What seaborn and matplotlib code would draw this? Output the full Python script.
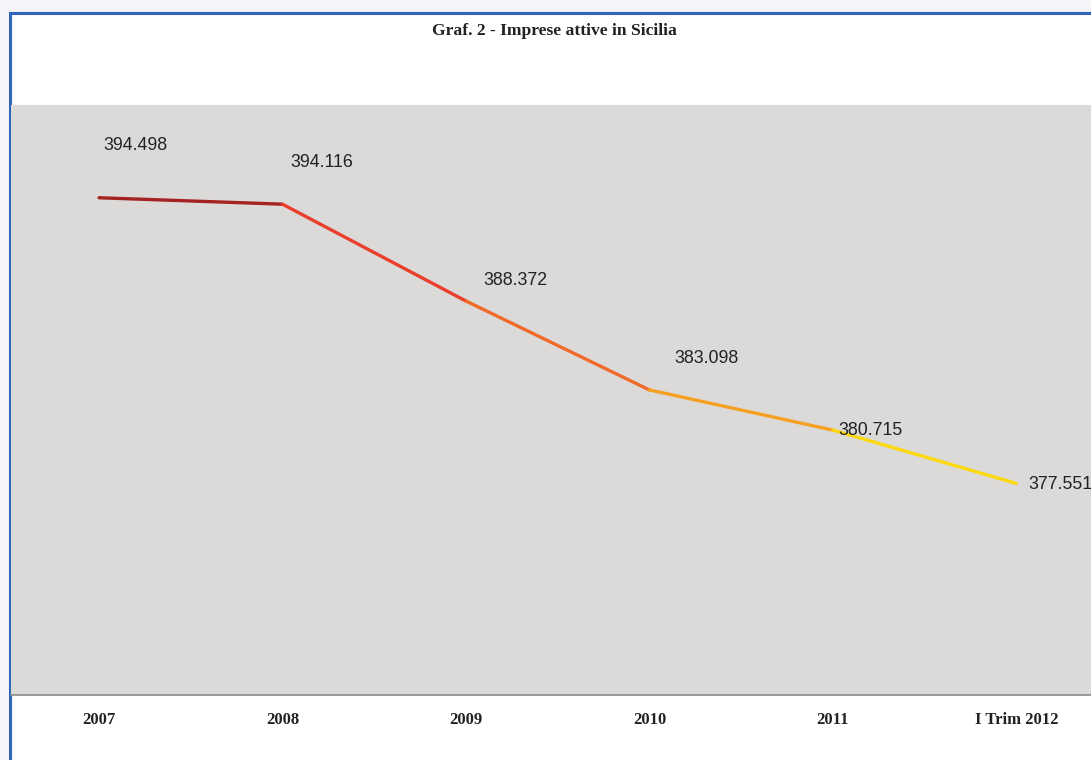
import matplotlib
matplotlib.use("Agg")
import matplotlib.pyplot as plt
import seaborn as sns
import pandas as pd
from matplotlib.patches import Rectangle

categories = ["2007", "2008", "2009", "2010", "2011", "I Trim 2012"]
values = [394498, 394116, 388372, 383098, 380715, 377551]
value_labels = ["394.498", "394.116", "388.372", "383.098", "380.715", "377.551"]

# label offsets in pixels (dx, dy) relative to each point
label_offsets = [(36, 52), (39, 42), (49, 21), (57, 31), (38, 0), (44, -1)]
seg_colors = ["#a42222", "#ea3f2c", "#f06a2a", "#f6a022", "#fcd80e"]

sns.set_theme(style="white")
plt.rcParams['font.family'] = ['Liberation Sans', 'DejaVu Sans']

W, H = 1091, 760
fig = plt.figure(figsize=(W / 100, H / 100), dpi=100)
fig.patch.set_facecolor("#f4f5f9")

# white panel with blue border (left/top visible)
panel = Rectangle((10 / W, -0.1), 1.2, (H - 13) / H + 0.1,
                  transform=fig.transFigure, facecolor="white",
                  edgecolor="#2f66b8", linewidth=2.2, zorder=-10)
fig.patches.append(panel)

ax = fig.add_axes([11 / W, 65 / H, 1097 / W, 590 / H])
ax.set_zorder(5)
ax.set_facecolor("#dbdad9")

seg_rows = []
for i in range(len(values) - 1):
    for j in (i, i + 1):
        seg_rows.append({"x": j, "y": values[j], "seg": i})
seg_df = pd.DataFrame(seg_rows)
sns.lineplot(data=seg_df, x="x", y="y", hue="seg", units="seg", estimator=None,
             palette=seg_colors, linewidth=2.4, legend=False, ax=ax,
             solid_capstyle="round")

for i, (lab, off) in enumerate(zip(value_labels, label_offsets)):
    ax.annotate(lab, (i, values[i]), xytext=(off[0] * 0.72, off[1] * 0.72),
                textcoords="offset points", ha="center", va="center",
                fontsize=12.8, color="#222222")

ax.set_xlim(-0.48, 5.5)
ax.set_ylim(365000, 400000)
ax.set_xticks(range(len(categories)))
ax.set_xticklabels(categories, fontfamily="Liberation Serif", fontweight="bold",
                   fontsize=12, color="#222222")
ax.tick_params(axis="x", length=0, pad=12)
ax.set_yticks([])
ax.set_xlabel("")
ax.set_ylabel("")
for s in ["top", "right", "left"]:
    ax.spines[s].set_visible(False)
ax.spines["bottom"].set_color("#8a8a8a")
ax.spines["bottom"].set_linewidth(1.2)

fig.text(554 / W, 1 - 31 / H, "Graf. 2 - Imprese attive in Sicilia",
         ha="center", va="center", fontfamily="Liberation Serif",
         fontweight="bold", fontsize=12.6, color="#222222", zorder=10)

fig.savefig("out.png", dpi=100)
